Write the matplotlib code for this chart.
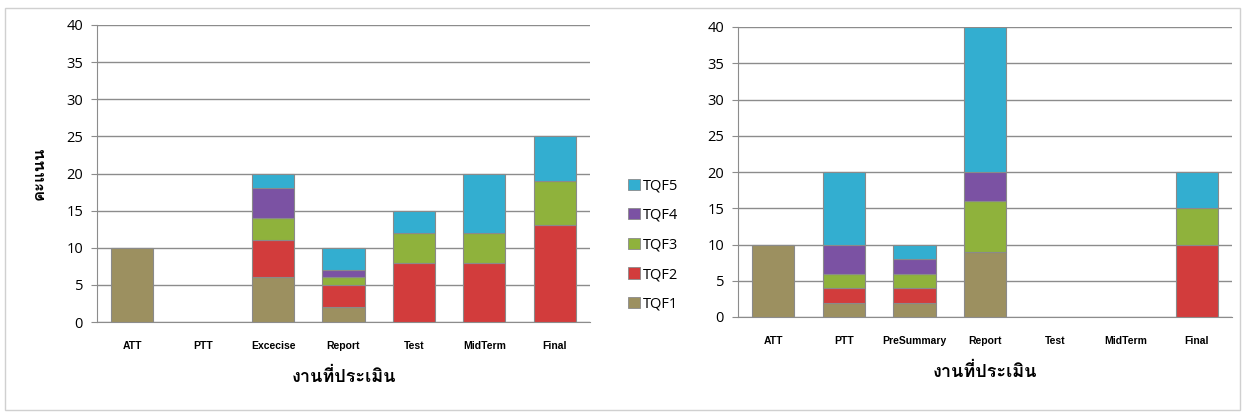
import matplotlib
matplotlib.use("Agg")
import matplotlib.pyplot as plt
import numpy as np
from matplotlib import font_manager, ft2font
from matplotlib.patches import Rectangle, Patch


SERIES = ["TQF1", "TQF2", "TQF3", "TQF4", "TQF5"]
COLORS = ["#9c9060", "#d23c3c", "#8fb23c", "#7b52a3", "#33aed0"]

LEFT_CATS = ["ATT", "PTT", "Excecise", "Report", "Test", "MidTerm", "Final"]
LEFT_TQF1 = [10, 0, 6, 2, 0, 0, 0]
LEFT_TQF2 = [0, 0, 5, 3, 8, 8, 13]
LEFT_TQF3 = [0, 0, 3, 1, 4, 4, 6]
LEFT_TQF4 = [0, 0, 4, 1, 0, 0, 0]
LEFT_TQF5 = [0, 0, 2, 3, 3, 8, 6]

RIGHT_CATS = ["ATT", "PTT", "PreSummary", "Report", "Test", "MidTerm", "Final"]
RIGHT_TQF1 = [10, 2, 2, 9, 0, 0, 0]
RIGHT_TQF2 = [0, 2, 2, 0, 0, 0, 10]
RIGHT_TQF3 = [0, 2, 2, 7, 0, 0, 5]
RIGHT_TQF4 = [0, 4, 2, 4, 0, 0, 0]
RIGHT_TQF5 = [0, 10, 2, 20, 0, 0, 5]

Y_TICKS = [0, 5, 10, 15, 20, 25, 30, 35, 40]
X_LABEL = "งานที่ประเมิน"
Y_LABEL = "คะแนน"


def thai_font():
    for f in font_manager.fontManager.ttflist:
        try:
            if 0x0E07 in ft2font.FT2Font(f.fname).get_charmap():
                return f.name
        except Exception:
            pass
    return "DejaVu Sans"


THAI = thai_font()
W, H = 1245, 418


def px_axes(fig, x0, y0, x1, y1):
    return fig.add_axes([x0 / W, 1 - y1 / H, (x1 - x0) / W, (y1 - y0) / H])


def draw(ax, cats, stacks):
    x = np.arange(len(cats))
    bottom = np.zeros(len(cats))
    for vals, color in zip(stacks, COLORS):
        vals = np.array(vals, dtype=float)
        keep = vals > 0
        ax.bar(x[keep], vals[keep], bottom=bottom[keep], width=0.6, color=color,
               edgecolor="#8a8a8a", linewidth=0.8, zorder=3)
        bottom += vals
    ax.set_xlim(-0.5, len(cats) - 0.5)
    ax.set_ylim(0, 40)
    ax.set_yticks(Y_TICKS)
    ax.set_xticks(x)
    ax.set_xticklabels(cats, fontsize=7.5, fontweight="bold", family="Liberation Sans")
    ax.tick_params(axis="x", length=0, pad=14)
    ax.tick_params(axis="y", length=4, color="#8c8c8c", labelsize=10.5, pad=6)
    for lab in ax.get_yticklabels():
        lab.set_family("Open Sans")
    ax.grid(axis="y", color="#8c8c8c", linewidth=1, zorder=0)
    for side in ["top", "right"]:
        ax.spines[side].set_visible(False)
    for side in ["left", "bottom"]:
        ax.spines[side].set_color("#8c8c8c")
    ax.set_xlabel(X_LABEL, family=THAI, fontsize=13, fontweight="bold", labelpad=12)


fig = plt.figure(figsize=(W / 100, H / 100), dpi=100)
fig.patches.append(Rectangle((5 / W, 1 - 410 / H), 1235 / W, 402 / H, transform=fig.transFigure,
                             fill=False, edgecolor="#d0d0d0", linewidth=1))

ax1 = px_axes(fig, 97, 25, 590, 322)
draw(ax1, LEFT_CATS, [LEFT_TQF1, LEFT_TQF2, LEFT_TQF3, LEFT_TQF4, LEFT_TQF5])
ax1.set_ylabel(Y_LABEL, family=THAI, fontsize=12, fontweight="bold", labelpad=14)

ax2 = px_axes(fig, 738, 27, 1232, 317)
draw(ax2, RIGHT_CATS, [RIGHT_TQF1, RIGHT_TQF2, RIGHT_TQF3, RIGHT_TQF4, RIGHT_TQF5])

handles = [Patch(facecolor=c, edgecolor="#8a8a8a", linewidth=0.6) for c in COLORS][::-1]
fig.legend(handles, SERIES[::-1], loc="center left", bbox_to_anchor=(615 / W, 1 - 245 / H),
           frameon=False, handlelength=0.8, handleheight=0.8, handletextpad=0.2,
           labelspacing=1.0, prop={"family": "Open Sans", "size": 10.5})

fig.savefig("out.png", dpi=100)
